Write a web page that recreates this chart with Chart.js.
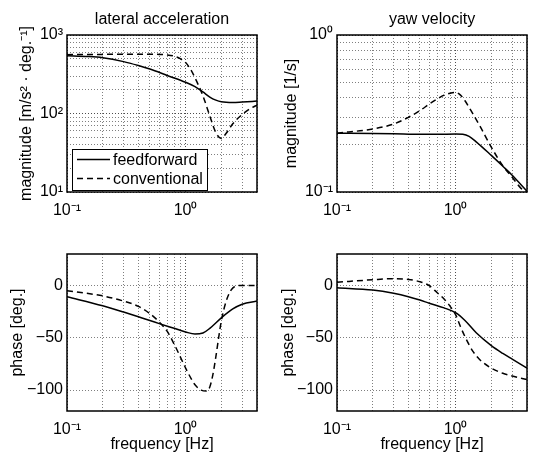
<!DOCTYPE html>
<html>
<head>
<meta charset="utf-8">
<script src="https://cdn.jsdelivr.net/npm/chart.js@4.4.1/dist/chart.umd.min.js"></script>
<style>
html, body { margin: 0; padding: 0; background: #fff; overflow: hidden; }
#wrap { position: relative; width: 534px; height: 455px; overflow: hidden; }
canvas { position: absolute; }
</style>
</head>
<body>
<div id="wrap">
  <canvas id="latMag" width="266" height="230" style="left:0;top:0"></canvas>
  <canvas id="yawMag" width="266" height="230" style="left:270px;top:0"></canvas>
  <canvas id="latPhase" width="266" height="230" style="left:0;top:225px"></canvas>
  <canvas id="yawPhase" width="266" height="230" style="left:270px;top:225px"></canvas>
</div>
<script>
// tick positions
const freqTicks = [0.1, 0.2, 0.3, 0.4, 0.5, 0.6, 0.7, 0.8, 0.9, 1, 2, 3, 4];
const latMagTicks = [10, 20, 30, 40, 50, 60, 70, 80, 90, 100, 200, 300, 400, 500, 600, 700, 800, 900, 1000];
const yawMagTicks = [0.1, 0.2, 0.3, 0.4, 0.5, 0.6, 0.7, 0.8, 0.9, 1];
const phaseTicks = [-100, -50, 0];

// lateral acceleration magnitude
const latMagFFFreq = [0.1, 0.15, 0.2, 0.3, 0.4, 0.5, 0.7, 1.0, 1.2, 1.4, 1.6, 1.8, 2.0, 2.5, 3.0, 4.0];
const latMagFF = [545, 532, 513, 458, 408, 368, 305, 250, 220, 188, 162, 148, 141, 138, 140, 144];
const latMagConvFreq = [0.1, 0.2, 0.3, 0.5, 0.6, 0.7, 0.8, 0.9, 1.0, 1.1, 1.2, 1.4, 1.6, 1.8, 2.0, 2.2, 2.5, 3.0, 3.5, 4.0];
const latMagConv = [562, 566, 568, 568, 566, 558, 538, 500, 445, 366, 285, 168, 93, 57, 48, 56, 74, 97, 115, 128];

// yaw velocity magnitude
const yawMagFFFreq = [0.1, 0.2, 0.3, 0.5, 0.7, 1.0, 1.15, 1.3, 1.5, 2.0, 2.5, 3.0, 3.5, 4.0];
const yawMagFF = [0.237, 0.236, 0.235, 0.233, 0.233, 0.234, 0.233, 0.226, 0.208, 0.171, 0.146, 0.128, 0.113, 0.101];
const yawMagConvFreq = [0.1, 0.2, 0.3, 0.4, 0.5, 0.6, 0.7, 0.8, 0.9, 1.0, 1.1, 1.2, 1.4, 1.6, 2.0, 2.5, 3.0, 3.5, 4.0];
const yawMagConv = [0.237, 0.252, 0.271, 0.299, 0.33, 0.363, 0.391, 0.414, 0.426, 0.431, 0.414, 0.381, 0.314, 0.264, 0.193, 0.147, 0.124, 0.107, 0.098];

// lateral acceleration phase
const latPhFFFreq = [0.1, 0.2, 0.3, 0.4, 0.5, 0.6, 0.8, 1.0, 1.2, 1.4, 1.6, 2.0, 2.5, 3.0, 4.0];
const latPhFF = [-10.8, -19.5, -25.5, -30, -33.5, -36.5, -41, -44.5, -46.5, -45.5, -41, -31, -22.5, -18, -15];
const latPhConvFreq = [0.1, 0.2, 0.3, 0.4, 0.5, 0.6, 0.7, 0.8, 0.9, 1.0, 1.1, 1.2, 1.35, 1.5, 1.6, 1.7, 1.8, 1.9, 2.0, 2.2, 2.4, 2.6, 3.0, 4.0];
const latPhConv = [-5, -10, -15, -20, -27, -35, -44, -56, -68, -79, -88, -95, -100, -101, -97, -85, -68, -50, -34, -15, -5, -1, 0, 0];

// yaw velocity phase
const yawPhFFFreq = [0.1, 0.2, 0.3, 0.4, 0.5, 0.6, 0.8, 1.0, 1.2, 1.5, 2.0, 2.5, 3.0, 4.0];
const yawPhFF = [-2.2, -4.5, -7.6, -10.8, -14, -17, -21.5, -26, -33.5, -45.5, -57.5, -65, -70.5, -79];
const yawPhConvFreq = [0.1, 0.2, 0.3, 0.4, 0.5, 0.6, 0.7, 0.8, 0.9, 1.0, 1.1, 1.2, 1.4, 1.6, 2.0, 2.5, 3.0, 4.0];
const yawPhConv = [3, 5.4, 6.4, 5.7, 3.5, -0.3, -7, -13, -20, -28, -39.5, -49, -63, -71, -79, -84, -86.5, -90];

Chart.defaults.font.family = "'Liberation Sans', Arial, sans-serif";
Chart.defaults.font.size = 16;
Chart.defaults.color = '#000';

const sup = { '-': '\u207B', '0': '\u2070', '1': '\u00B9', '2': '\u00B2', '3': '\u00B3' };
function powLabel(v) {
    const e = Math.log10(v);
    if (Math.abs(e - Math.round(e)) > 1e-9) return '';
    return '10' + String(Math.round(e)).split('').map(c => sup[c]).join('');
}
function phaseLabel(v) {
    return v < 0 ? '\u2212' + Math.abs(v) : String(v);
}
function isDecade(v) {
    const e = Math.log10(v);
    return Math.abs(e - Math.round(e)) < 1e-9;
}

const boxPlugin = {
    id: 'box',
    afterDatasetsDraw(chart) {
        const a = chart.chartArea, c = chart.ctx;
        c.save();
        c.strokeStyle = '#000';
        c.lineWidth = 1.5;
        c.strokeRect(a.left, a.top, a.right - a.left, a.bottom - a.top);
        c.restore();
    }
};

const innerLegend = {
    id: 'innerLegend',
    afterDraw(chart, args, opts) {
        if (!opts.show) return;
        const a = chart.chartArea, c = chart.ctx;
        const x0 = a.left + 5, h = 41, w = 135, y0 = a.bottom - 2 - h;
        c.save();
        c.fillStyle = '#fff';
        c.fillRect(x0, y0, w, h);
        c.strokeStyle = '#000';
        c.lineWidth = 1;
        c.strokeRect(x0 + 0.5, y0 + 0.5, w, h);
        chart.data.datasets.forEach((ds, i) => {
            const y = y0 + 10.5 + i * 19;
            c.setLineDash(ds.borderDash || []);
            c.lineWidth = 1.5;
            c.beginPath();
            c.moveTo(x0 + 5, y);
            c.lineTo(x0 + 38, y);
            c.stroke();
            c.setLineDash([]);
            c.fillStyle = '#000';
            c.font = "16px 'Liberation Sans', Arial, sans-serif";
            c.textBaseline = 'middle';
            c.fillText(ds.label, x0 + 41, y + 1);
        });
        c.restore();
    }
};

function gridStyle(decadeCheck) {
    return {
        color: ctx => (decadeCheck && ctx.tick && isDecade(ctx.tick.value)) ? 'rgba(0,0,0,0.7)' : 'rgba(0,0,0,0.5)',
        lineWidth: 1,
        drawTicks: false
    };
}

function makeChart(id, o) {
    const series = [
        { label: 'feedforward', freq: o.ffFreq, vals: o.ff, dash: [] },
        { label: 'conventional', freq: o.convFreq, vals: o.conv, dash: [6, 4] }
    ];
    return new Chart(document.getElementById(id), {
        type: 'line',
        data: {
            datasets: series.map(s => ({
                label: s.label,
                data: s.freq.map((f, i) => ({ x: f, y: s.vals[i] })),
                borderColor: '#000',
                borderWidth: 1.5,
                borderDash: s.dash,
                pointRadius: 0,
                fill: false,
                cubicInterpolationMode: 'monotone'
            }))
        },
        options: {
            responsive: false,
            animation: false,
            devicePixelRatio: 1,
            layout: { padding: { top: o.padTop, left: 0, right: 0, bottom: 0 } },
            plugins: {
                legend: { display: false },
                tooltip: { enabled: false },
                title: {
                    display: !!o.title,
                    text: o.title,
                    fullSize: false,
                    color: '#000',
                    font: { size: 16, weight: 'normal', lineHeight: 1.2 },
                    padding: { top: 9.9, bottom: 5.9 }
                },
                innerLegend: { show: !!o.legend }
            },
            scales: {
                x: {
                    type: 'logarithmic',
                    min: 0.1,
                    max: 4,
                    afterBuildTicks: s => { s.ticks = freqTicks.map(v => ({ value: v })); },
                    afterFit: s => { s.height = o.xh; },
                    grid: gridStyle(true),
                    border: { display: false, dash: [1, 2] },
                    ticks: { autoSkip: false, maxRotation: 0, padding: 9, callback: v => powLabel(v) },
                    title: {
                        display: !!o.xTitle,
                        text: o.xTitle,
                        color: '#000',
                        font: { size: 16, lineHeight: 1.2 },
                        padding: { top: 0, bottom: 0.4 }
                    }
                },
                y: {
                    type: o.yType,
                    min: o.yMin,
                    max: o.yMax,
                    afterBuildTicks: s => { s.ticks = o.yTicks.map(v => ({ value: v })); },
                    afterFit: s => { s.width = 67; },
                    grid: gridStyle(o.yType === 'logarithmic'),
                    border: { display: false, dash: [1, 2] },
                    ticks: { autoSkip: false, padding: 4, callback: o.yLabel },
                    title: {
                        display: true,
                        text: o.yTitle,
                        color: '#000',
                        font: { size: 16, lineHeight: 1.2 },
                        padding: { top: o.yTitlePad, bottom: 0 }
                    }
                }
            }
        },
        plugins: [boxPlugin, innerLegend]
    });
}

makeChart('latMag', {
    title: 'lateral acceleration', padTop: 0, xh: 38, legend: true,
    yType: 'logarithmic', yMin: 10, yMax: 1000, yTicks: latMagTicks, yLabel: v => powLabel(v),
    yTitle: 'magnitude [m/s\u00B2 \u00B7 deg.\u207B\u00B9]', yTitlePad: 17.4,
    ffFreq: latMagFFFreq, ff: latMagFF, convFreq: latMagConvFreq, conv: latMagConv
});
makeChart('yawMag', {
    title: 'yaw velocity', padTop: 0, xh: 38,
    yType: 'logarithmic', yMin: 0.1, yMax: 1, yTicks: yawMagTicks, yLabel: v => powLabel(v),
    yTitle: 'magnitude [1/s]', yTitlePad: 12.4,
    ffFreq: yawMagFFFreq, ff: yawMagFF, convFreq: yawMagConvFreq, conv: yawMagConv
});
makeChart('latPhase', {
    padTop: 29, xh: 44, xTitle: 'frequency [Hz]',
    yType: 'linear', yMin: -120, yMax: 30, yTicks: phaseTicks, yLabel: v => phaseLabel(v),
    yTitle: 'phase [deg.]', yTitlePad: 8.4,
    ffFreq: latPhFFFreq, ff: latPhFF, convFreq: latPhConvFreq, conv: latPhConv
});
makeChart('yawPhase', {
    padTop: 29, xh: 44, xTitle: 'frequency [Hz]',
    yType: 'linear', yMin: -120, yMax: 30, yTicks: phaseTicks, yLabel: v => phaseLabel(v),
    yTitle: 'phase [deg.]', yTitlePad: 9.4,
    ffFreq: yawPhFFFreq, ff: yawPhFF, convFreq: yawPhConvFreq, conv: yawPhConv
});
</script>
</body>
</html>
